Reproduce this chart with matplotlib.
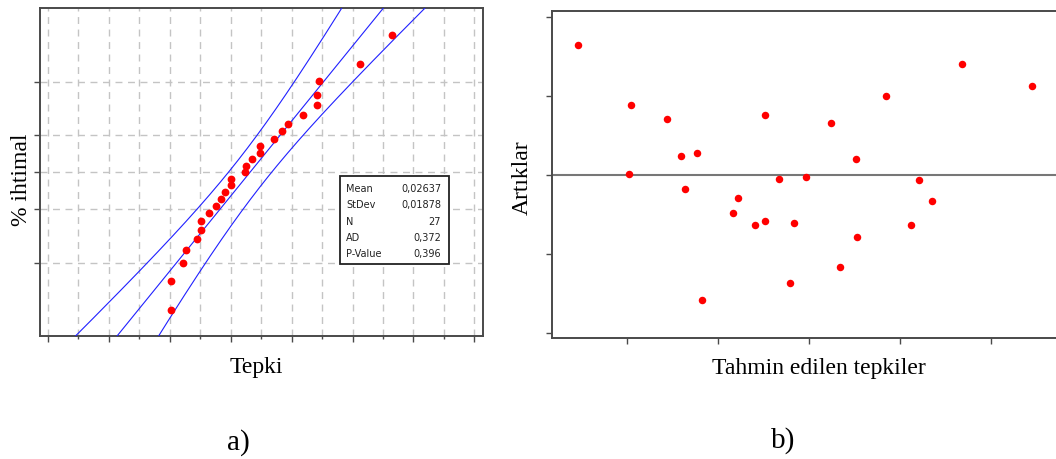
import numpy as np
import matplotlib
matplotlib.use("Agg")
import matplotlib.pyplot as plt
from matplotlib.patches import Rectangle
from matplotlib.ticker import MultipleLocator, NullFormatter
from statistics import NormalDist

# (a) normal probability plot of the response
tepki = [0.0003, 0.0003, 0.0045, 0.0053, 0.0089, 0.0103, 0.0103, 0.0130, 0.0151,
         0.0168, 0.0181, 0.0200, 0.0200, 0.0247, 0.0250, 0.0270, 0.0297, 0.0297,
         0.0343, 0.0370, 0.0390, 0.0439, 0.0483, 0.0483, 0.0489, 0.0624, 0.0730]
stat_names = ["Mean", "StDev", "N", "AD", "P-Value"]
mean, stdev, n_obs = 0.02637, 0.01878, 27
ad, p_value = 0.372, 0.396
prob_grid = [10, 30, 50, 70, 90]   # percent
prob_limits = [1, 99]

# (b) residuals versus fitted values
tahmin = [-0.0053, 0.0005, 0.0003, 0.0044, 0.0060, 0.0077, 0.0064, 0.0083, 0.0117,
          0.0122, 0.0141, 0.0152, 0.0152, 0.0167, 0.0180, 0.0184, 0.0197, 0.0225,
          0.0234, 0.0252, 0.0253, 0.0285, 0.0312, 0.0321, 0.0335, 0.0368, 0.0445]
artik = [0.0164, 0.0088, 0.0001, 0.0070, 0.0024, 0.0027, -0.0018, -0.0158, -0.0049,
         -0.0030, -0.0063, -0.0058, 0.0076, -0.0005, -0.0137, -0.0061, -0.0003, 0.0066,
         -0.0117, 0.0020, -0.0079, 0.0100, -0.0063, -0.0006, -0.0033, 0.0140, 0.0113]

nd = NormalDist()
spine_col = "#4a4a4a"
grid_col = "#c4c4c4"
serif = ["Liberation Serif", "DejaVu Serif"]

fig = plt.figure(figsize=(10.56, 4.6), dpi=100)

# ---------- left: probability plot ----------
ax1 = fig.add_axes([0.0379, 0.2667, 0.4192, 0.7131])
n = len(tepki)
ranks = np.arange(1, n + 1)
z_pts = np.array([nd.inv_cdf((r - 0.3) / (n + 0.4)) for r in ranks])
ax1.plot(np.sort(tepki), z_pts, "o", color="#ff0000", ms=5.6, mec="none", zorder=4)

z_lo, z_hi = nd.inv_cdf(prob_limits[0] / 100), nd.inv_cdf(prob_limits[1] / 100)
zz = np.linspace(z_lo - 0.2, z_hi + 0.2, 200)
fit = mean + stdev * zz
half = nd.inv_cdf(0.975) * stdev * np.sqrt((1 + zz ** 2 / 2) / n_obs)
for xs in (fit, fit - half, fit + half):
    ax1.plot(xs, zz, color="#2020ff", lw=0.8, zorder=3)

ax1.set_ylim(z_lo, z_hi)
ax1.set_yticks([nd.inv_cdf(p / 100) for p in prob_grid])
ax1.set_xlim(-0.0425, 0.1027)
ax1.xaxis.set_major_locator(MultipleLocator(0.02))
ax1.xaxis.set_minor_locator(MultipleLocator(0.01))
ax1.xaxis.set_major_formatter(NullFormatter())
ax1.yaxis.set_major_formatter(NullFormatter())
ax1.grid(True, which="both", axis="x", color=grid_col, lw=1.0, dashes=(5, 4))
ax1.grid(True, which="major", axis="y", color=grid_col, lw=1.0, dashes=(5, 4))
ax1.set_axisbelow(True)
ax1.tick_params(which="major", direction="out", length=4, width=1, color=spine_col)
ax1.tick_params(which="minor", direction="out", length=2.5, width=1, color=spine_col)
for s in ax1.spines.values():
    s.set_color(spine_col)
    s.set_linewidth(1.4)
ax1.set_xlabel("Tepki", family=serif, fontsize=17)
ax1.xaxis.set_label_coords(0.488, -0.06)
ax1.set_ylabel("% ihtimal", family=serif, fontsize=17)
ax1.yaxis.set_label_coords(-0.019, 0.48)

# summary box
ax1.add_patch(Rectangle((0.678, 0.2204), 0.246, 0.2683, transform=ax1.transAxes,
                        facecolor="white", edgecolor="#222222", lw=1.3, zorder=5))
stat_vals = [f"{mean:.5f}", f"{stdev:.5f}", f"{n_obs}", f"{ad:.3f}", f"{p_value:.3f}"]
row_y = [0.453, 0.4034, 0.3527, 0.3030, 0.2543]
for name, val, y in zip(stat_names, stat_vals, row_y):
    ax1.text(0.691, y, name, transform=ax1.transAxes, fontsize=7, va="center",
             ha="left", color="#222222", zorder=6)
    ax1.text(0.906, y, val.replace(".", ","), transform=ax1.transAxes, fontsize=7,
             va="center", ha="right", color="#222222", zorder=6)

# ---------- right: residuals vs fitted (axes runs past the right edge) ----------
ax2 = fig.add_axes([0.5224, 0.2624, 0.506, 0.7109])
ax2.axhline(0, color="#777777", lw=1.5, zorder=2)
ax2.plot(tahmin, artik, "o", color="#ff0000", ms=5.4, mec="none", zorder=4)
ax2.set_xlim(-0.00824, 0.05047)
ax2.set_ylim(-0.0207, 0.0207)
ax2.xaxis.set_major_locator(MultipleLocator(0.01))
ax2.yaxis.set_major_locator(MultipleLocator(0.01))
ax2.xaxis.set_major_formatter(NullFormatter())
ax2.yaxis.set_major_formatter(NullFormatter())
ax2.tick_params(direction="out", length=4, width=1, color=spine_col)
ax2.spines["right"].set_visible(False)
for s in ("left", "top", "bottom"):
    ax2.spines[s].set_color(spine_col)
    ax2.spines[s].set_linewidth(1.4)
ax2.set_xlabel("Tahmin edilen tepkiler", family=serif, fontsize=17)
ax2.xaxis.set_label_coords(0.5, -0.058)
ax2.set_ylabel("Artıklar", family=serif, fontsize=17)
ax2.yaxis.set_label_coords(-0.035, 0.495)

fig.text(238 / 1056, 1 - 443 / 460, "a)", family=serif, fontsize=21,
         ha="center", va="center")
fig.text(783 / 1056, 1 - 441 / 460, "b)", family=serif, fontsize=21,
         ha="center", va="center")

fig.savefig("out.png", dpi=100)
